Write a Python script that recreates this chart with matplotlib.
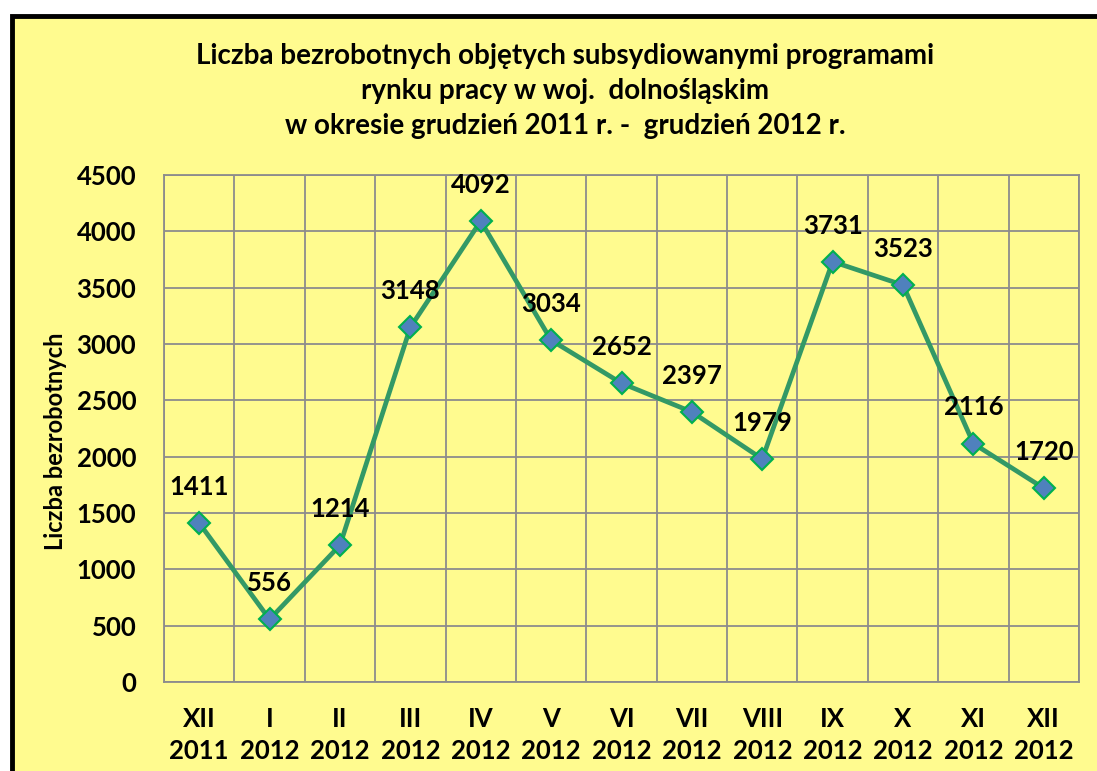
import matplotlib
import matplotlib.pyplot as plt
from matplotlib.patches import Rectangle

matplotlib.use('Agg')

# data
months = ['XII', 'I', 'II', 'III', 'IV', 'V', 'VI', 'VII', 'VIII', 'IX', 'X', 'XI', 'XII']
years = ['2011'] + ['2012'] * 12
values = [1411, 556, 1214, 3148, 4092, 3034, 2652, 2397, 1979, 3731, 3523, 2116, 1720]
yticks = list(range(0, 5000, 500))

title = ('Liczba bezrobotnych objętych subsydiowanymi programami\n'
         'rynku pracy w woj.  dolnośląskim\n'
         'w okresie grudzień 2011 r. -  grudzień 2012 r.')

plt.rcParams['font.family'] = ['Lato', 'DejaVu Sans']
plt.rcParams['font.weight'] = 'bold'

W, H = 1097, 771
fig = plt.figure(figsize=(W / 100, H / 100), dpi=100)
fig.patch.set_facecolor('white')

bg = '#FFFB8F'
# yellow chart box with black border on left/top
fig.patches.append(Rectangle((12 / W, -0.05), 1.1, 1 - 16 / H + 0.05, transform=fig.transFigure,
                             facecolor=bg, edgecolor='black', linewidth=3.5, zorder=-5))

ax = fig.add_axes([164 / W, 1 - 682 / H, (1079 - 164) / W, (682 - 175) / H])
ax.set_facecolor(bg)
ax.set_zorder(2)

x = list(range(len(values)))
ax.plot(x, values, color='#339966', linewidth=3.4, marker='D', markersize=11.5,
        markerfacecolor='#4F81BD', markeredgecolor='#00B050', markeredgewidth=1.5, zorder=3)

for xi, v in zip(x, values):
    ax.annotate(str(v), (xi, v), xytext=(0, 26), textcoords='offset points',
                ha='center', va='center', fontsize=18.5, fontweight='bold')

ax.set_xlim(-0.5, len(values) - 0.5)
ax.set_ylim(0, 4500)
ax.set_yticks(yticks)
ax.set_yticklabels([str(t) for t in yticks], fontsize=18.5, fontweight='bold')
ax.set_xticks(x)
ax.set_xticklabels([m + '\n' + y for m, y in zip(months, years)], fontsize=18.5,
                   fontweight='bold', linespacing=1.4)
ax.tick_params(axis='both', length=0, which='both')
ax.tick_params(axis='x', pad=18)
ax.tick_params(axis='y', pad=20)

ax.grid(False)
for t in yticks:
    ax.axhline(t, color='#8C8C8C', linewidth=1.3, zorder=1)
for b in [i + 0.5 for i in range(-1, len(values))]:
    ax.axvline(b, color='#8C8C8C', linewidth=1.3, zorder=1)
for s in ax.spines.values():
    s.set_color('#8C8C8C')
    s.set_linewidth(1.3)

ax.set_ylabel('Liczba bezrobotnych', fontsize=17, fontweight='bold', va='center')
ax.yaxis.set_label_coords(-0.119, 0.475)

fig.text(565 / W, 1 - 91 / H, title, ha='center', va='center', fontsize=20,
         fontweight='bold', linespacing=1.45)

fig.savefig('out.png', dpi=100)
